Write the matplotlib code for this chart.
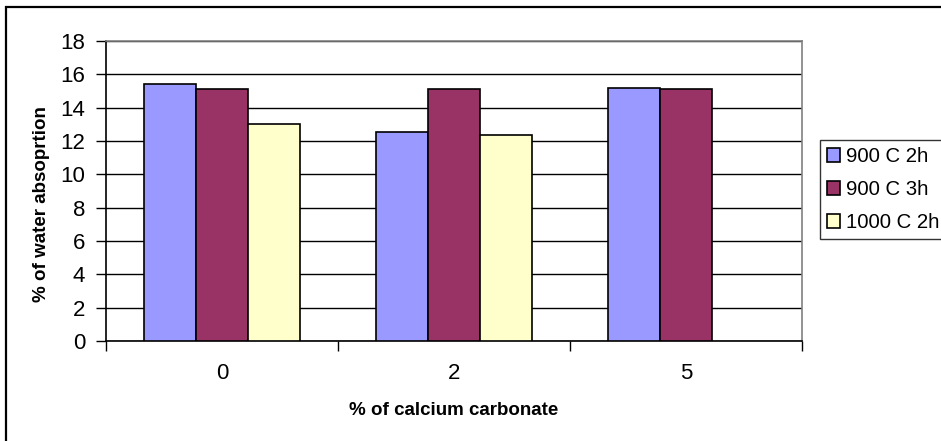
import matplotlib

matplotlib.use("Agg")
import matplotlib.pyplot as plt
import numpy as np
from matplotlib.patches import Rectangle

plt.rcParams["font.family"] = ["Liberation Sans", "DejaVu Sans"]

categories = ["0", "2", "5"]
series_names = ["900 C 2h", "900 C 3h", "1000 C 2h"]
absorption_900_2h = [15.4, 12.55, 15.2]
absorption_900_3h = [15.1, 15.1, 15.1]
absorption_1000_2h = [13.05, 12.35, np.nan]
y_ticks = [0, 2, 4, 6, 8, 10, 12, 14, 16, 18]

colors = ["#9999FF", "#993366", "#FFFFCC"]
series = [absorption_900_2h, absorption_900_3h, absorption_1000_2h]

W, H = 941, 441
fig = plt.figure(figsize=(W / 100, H / 100), dpi=100)
fig.patch.set_facecolor("white")

# chart-area border (runs off the right and bottom edges)
fig.patches.append(
    Rectangle((6 / W, -0.05), 1.1, 1 - 7 / H + 0.05, transform=fig.transFigure,
              fill=False, edgecolor="black", linewidth=1.6, zorder=0)
)

ax = fig.add_axes([106 / W, (H - 341) / H, 696 / W, 300 / H])
x = np.arange(len(categories))
width = 0.224
for i, (vals, color, name) in enumerate(zip(series, colors, series_names)):
    ax.bar(x + (i - 1) * width, vals, width, color=color, edgecolor="black",
           linewidth=1.2, label=name, zorder=3)

ax.set_xlim(-0.5, len(categories) - 0.5)
ax.set_ylim(0, 18)
ax.set_yticks(y_ticks)
ax.yaxis.grid(True, color="black", linewidth=1.0, zorder=0)
ax.set_axisbelow(True)

# category boundaries carry the tick marks, labels sit at the centres
ax.set_xticks(np.arange(-0.5, len(categories), 1.0))
ax.set_xticklabels([])
ax.set_xticks(x, minor=True)
ax.set_xticklabels(categories, minor=True)
ax.tick_params(axis="x", which="major", direction="out", length=7, width=1)
ax.tick_params(axis="x", which="minor", length=0, pad=16, labelsize=16)
ax.tick_params(axis="y", direction="out", length=7, width=1, pad=8, labelsize=16)

for side in ["top", "right"]:
    ax.spines[side].set_color("#808080")
    ax.spines[side].set_linewidth(1.2)
ax.spines["left"].set_color("black")
ax.spines["bottom"].set_color("black")
ax.spines["left"].set_linewidth(1.2)
ax.spines["bottom"].set_linewidth(1.2)

ax.set_xlabel("% of calcium carbonate", fontsize=13.5, fontweight="bold", labelpad=13)
ax.set_ylabel("% of water absoprtion", fontsize=13.5, fontweight="bold")
ax.yaxis.set_label_coords(-0.081, 0.455)

leg = fig.legend(
    loc="upper left", bbox_to_anchor=(820 / W, 1 - 140 / H), fontsize=14.7,
    frameon=True, fancybox=False, handlelength=0.65, handleheight=0.65,
    handletextpad=0.25, labelspacing=0.68, borderpad=0.35, borderaxespad=0,
)
leg.get_frame().set_edgecolor("black")
leg.get_frame().set_linewidth(1.0)

fig.savefig("out.png", dpi=100)
